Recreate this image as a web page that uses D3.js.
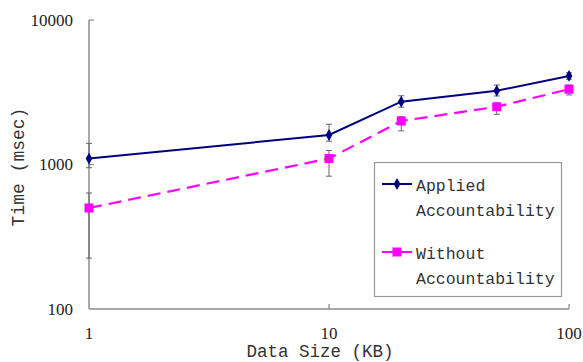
<!DOCTYPE html>
<html>
<head>
<meta charset="utf-8">
<script src="https://cdn.jsdelivr.net/npm/d3@7"></script>
<style>
html,body{margin:0;padding:0;background:#fff;}
svg{display:block;}
.serif{font-family:"Liberation Serif","DejaVu Serif",serif;}
.mono{font-family:"Liberation Mono","Courier New",Courier,"DejaVu Sans Mono",monospace;}
</style>
</head>
<body>
<svg id="chart" width="583" height="362"></svg>
<script>
const dataSizes = [1, 10, 20, 50, 100];
const appliedValues = [1100, 1600, 2720, 3240, 4100];
const appliedLow = [950, 1450, 2490, 2980, 3890];
const appliedHigh = [1400, 1900, 2990, 3550, 4320];
const withoutValues = [500, 1100, 2000, 2510, 3320];
const withoutLow = [225, 830, 1710, 2225, 3030];
const withoutHigh = [635, 1250, 2140, 2650, 3550];
const xTicks = [1, 10, 100];
const yTicks = [100, 1000, 10000];
const seriesNames = ["Applied\nAccountability", "Without\nAccountability"];

const svg = d3.select("#chart");
const x = d3.scaleLog().domain([1, 100]).range([89, 569]);
const y = d3.scaleLog().domain([100, 10000]).range([309, 20]);
const axisColor = "#8c8c8c";

svg.append("line").attr("x1", x(1)).attr("x2", x(1)).attr("y1", y(10000)).attr("y2", y(100))
  .attr("stroke", axisColor).attr("stroke-width", 1.5);
svg.append("line").attr("x1", x(1)).attr("x2", x(100)).attr("y1", y(100)).attr("y2", y(100))
  .attr("stroke", axisColor).attr("stroke-width", 1.5);

yTicks.forEach(v => {
  if (v !== 100) {
    svg.append("line").attr("x1", x(1)).attr("x2", x(1) + 5).attr("y1", y(v)).attr("y2", y(v))
      .attr("stroke", axisColor).attr("stroke-width", 1.2);
  }
  svg.append("text").attr("class", "serif").attr("x", 73).attr("y", y(v)).attr("dy", "0.35em")
    .attr("text-anchor", "end").style("font-size", "17px")
    .attr("fill", "#222").text(v);
});
xTicks.forEach(v => {
  if (v !== 1) {
    svg.append("line").attr("x1", x(v)).attr("x2", x(v)).attr("y1", y(100)).attr("y2", y(100) - 5)
      .attr("stroke", axisColor).attr("stroke-width", 1.2);
  }
  svg.append("text").attr("class", "serif").attr("x", x(v)).attr("y", 339)
    .attr("text-anchor", "middle").style("font-size", "17px")
    .attr("fill", "#222").text(v);
});

svg.append("text").attr("class", "mono").attr("x", 320).attr("y", 357).attr("text-anchor", "middle")
  .style("font-size", "17.5px").attr("fill", "#333")
  .text("Data Size (KB)");
svg.append("text").attr("class", "mono").attr("transform", "translate(24,167) rotate(-90)").attr("text-anchor", "middle")
  .style("font-size", "18px").attr("fill", "#333")
  .text("Time (msec)");

function drawErr(vals, lo, hi) {
  dataSizes.forEach((d, i) => {
    const cx = x(d);
    svg.append("line").attr("x1", cx).attr("x2", cx).attr("y1", y(lo[i])).attr("y2", y(hi[i]))
      .attr("stroke", "#666").attr("stroke-width", 1);
    [lo[i], hi[i]].forEach(e => {
      svg.append("line").attr("x1", cx - 3).attr("x2", cx + 3).attr("y1", y(e)).attr("y2", y(e))
        .attr("stroke", "#666").attr("stroke-width", 1);
    });
  });
}
drawErr(appliedValues, appliedLow, appliedHigh);
drawErr(withoutValues, withoutLow, withoutHigh);

const line = d3.line().x(d => x(d[0])).y(d => y(d[1]));
const appliedData = dataSizes.map((d, i) => [d, appliedValues[i]]);
const withoutData = dataSizes.map((d, i) => [d, withoutValues[i]]);

svg.append("path").datum(withoutData).attr("d", line).attr("fill", "none")
  .attr("stroke", "#ff00ff").attr("stroke-width", 2.2).attr("stroke-dasharray", "13,7");
svg.append("path").datum(appliedData).attr("d", line).attr("fill", "none")
  .attr("stroke", "#000080").attr("stroke-width", 2);

const diamond = d3.symbol().type(d3.symbolDiamond).size(40);
svg.selectAll(".dia").data(appliedData).join("path")
  .attr("transform", d => `translate(${x(d[0])},${y(d[1])})`).attr("d", diamond).attr("fill", "#000080");
svg.selectAll(".sq").data(withoutData).join("rect")
  .attr("x", d => x(d[0]) - 4.5).attr("y", d => y(d[1]) - 4.5).attr("width", 9).attr("height", 9)
  .attr("fill", "#ff00ff");

const lg = svg.append("g");
lg.append("rect").attr("x", 374.5).attr("y", 162.5).attr("width", 187).attr("height", 134)
  .attr("fill", "#fff").attr("stroke", "#999").attr("stroke-width", 1.2);
const legendRows = [
  {name: seriesNames[0], color: "#000080", y: 184, marker: "dia"},
  {name: seriesNames[1], color: "#ff00ff", y: 252, marker: "sq"}
];
legendRows.forEach(r => {
  lg.append("line").attr("x1", 382).attr("x2", 412).attr("y1", r.y).attr("y2", r.y)
    .attr("stroke", r.color).attr("stroke-width", 2);
  if (r.marker === "dia") {
    lg.append("path").attr("transform", `translate(397,${r.y})`).attr("d", diamond).attr("fill", r.color);
  } else {
    lg.append("rect").attr("x", 392.5).attr("y", r.y - 4.5).attr("width", 9).attr("height", 9).attr("fill", r.color);
  }
  r.name.split("\n").forEach((t, j) => {
    lg.append("text").attr("class", "mono").attr("x", 416).attr("y", r.y + 7 + j * 25)
      .style("font-size", "16.5px").attr("fill", "#333").text(t);
  });
});
</script>
</body>
</html>
